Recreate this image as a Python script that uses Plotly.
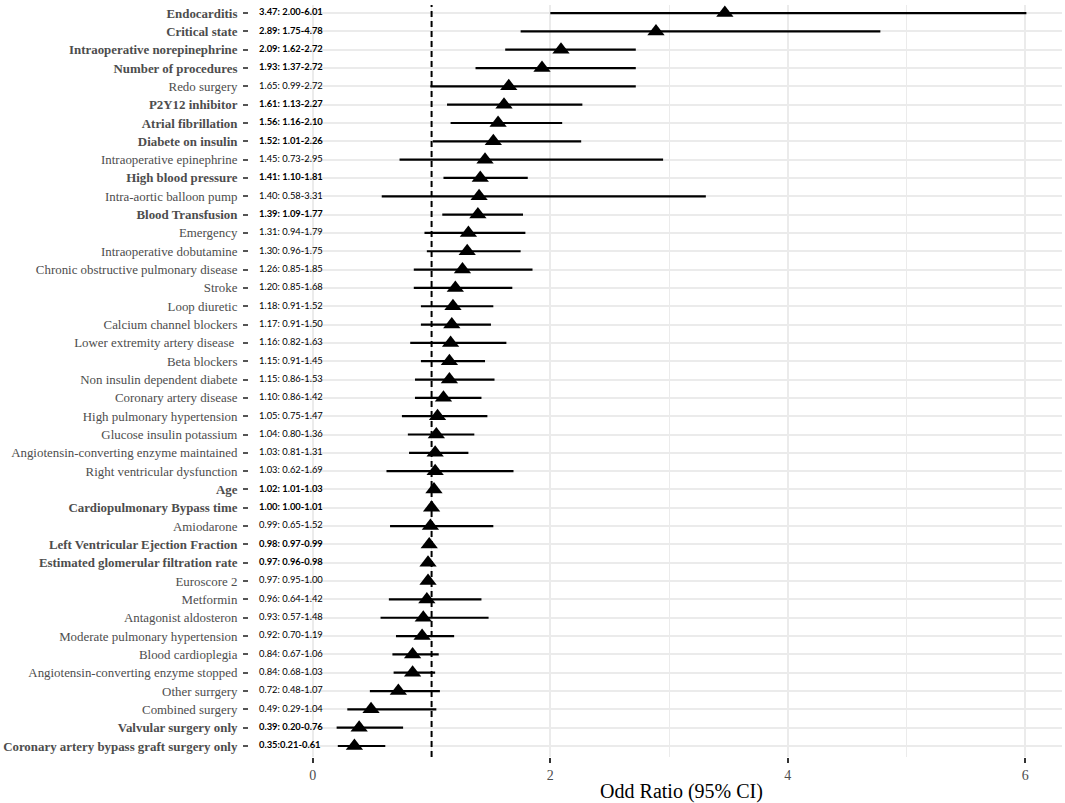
import plotly.graph_objects as go

# rows listed top to bottom, as in the figure
labels = [
    "Endocarditis", "Critical state", "Intraoperative norepinephrine",
    "Number of procedures", "Redo surgery", "P2Y12 inhibitor",
    "Atrial fibrillation", "Diabete on insulin", "Intraoperative epinephrine",
    "High blood pressure", "Intra-aortic balloon pump", "Blood Transfusion",
    "Emergency", "Intraoperative dobutamine",
    "Chronic obstructive pulmonary disease", "Stroke", "Loop diuretic",
    "Calcium channel blockers", "Lower extremity artery disease\u00a0",
    "Beta blockers", "Non insulin dependent diabete", "Coronary artery disease",
    "High pulmonary hypertension", "Glucose insulin potassium",
    "Angiotensin-converting enzyme maintained", "Right ventricular dysfunction",
    "Age", "Cardiopulmonary Bypass time", "Amiodarone",
    "Left Ventricular Ejection Fraction", "Estimated glomerular filtration rate",
    "Euroscore 2", "Metformin", "Antagonist aldosteron",
    "Moderate pulmonary hypertension", "Blood cardioplegia",
    "Angiotensin-converting enzyme stopped", "Other surrgery",
    "Combined surgery", "Valvular surgery only",
    "Coronary artery bypass graft surgery only",
]
odds = [3.47, 2.89, 2.09, 1.93, 1.65, 1.61, 1.56, 1.52, 1.45, 1.41, 1.40,
        1.39, 1.31, 1.30, 1.26, 1.20, 1.18, 1.17, 1.16, 1.15, 1.15, 1.10,
        1.05, 1.04, 1.03, 1.03, 1.02, 1.00, 0.99, 0.98, 0.97, 0.97, 0.96,
        0.93, 0.92, 0.84, 0.84, 0.72, 0.49, 0.39, 0.35]
ci_low = [2.00, 1.75, 1.62, 1.37, 0.99, 1.13, 1.16, 1.01, 0.73, 1.10, 0.58,
          1.09, 0.94, 0.96, 0.85, 0.85, 0.91, 0.91, 0.82, 0.91, 0.86, 0.86,
          0.75, 0.80, 0.81, 0.62, 1.01, 1.00, 0.65, 0.97, 0.96, 0.95, 0.64,
          0.57, 0.70, 0.67, 0.68, 0.48, 0.29, 0.20, 0.21]
ci_high = [6.01, 4.78, 2.72, 2.72, 2.72, 2.27, 2.10, 2.26, 2.95, 1.81, 3.31,
           1.77, 1.79, 1.75, 1.85, 1.68, 1.52, 1.50, 1.63, 1.45, 1.53, 1.42,
           1.47, 1.36, 1.31, 1.69, 1.03, 1.01, 1.52, 0.99, 0.98, 1.00, 1.42,
           1.48, 1.19, 1.06, 1.03, 1.07, 1.04, 0.76, 0.61]
significant = [1, 1, 1, 1, 0, 1, 1, 1, 0, 1, 0, 1, 0, 0, 0, 0, 0, 0, 0, 0, 0,
               0, 0, 0, 0, 0, 1, 1, 0, 1, 1, 0, 0, 0, 0, 0, 0, 0, 0, 1, 1]

n = len(labels)
ypos = [n - 1 - i for i in range(n)]

or_text = [f"{o:.2f}: {lo:.2f}-{hi:.2f}" for o, lo, hi in zip(odds, ci_low, ci_high)]
or_text[-1] = or_text[-1].replace(": ", ":")
or_text = [f"<b>{t}</b>" if s else t for t, s in zip(or_text, significant)]
tick_text = [f"<b>{t}</b>" if s else t for t, s in zip(labels, significant)]

PW = 1062.0  # paper width inside the margins
serif = "Liberation Serif, Times New Roman, serif"

fig = go.Figure()

fig.add_trace(go.Scatter(
    x=odds, y=ypos, mode="markers",
    marker=dict(symbol="triangle-up", size=15, color="black"),
    error_x=dict(type="data", symmetric=False,
                 array=[h - o for h, o in zip(ci_high, odds)],
                 arrayminus=[o - l for o, l in zip(odds, ci_low)],
                 width=0, thickness=2.2, color="black"),
    xaxis="x", yaxis="y", showlegend=False, hoverinfo="skip",
))

fig.add_trace(go.Scatter(
    x=[10] * n, y=ypos, mode="text", text=or_text,
    textposition="middle right",
    textfont=dict(family="Lato, sans-serif", size=9.4, color="black"),
    xaxis="x2", yaxis="y2", showlegend=False, cliponaxis=False,
    hoverinfo="skip",
))

fig.add_vline(x=1, line=dict(color="black", width=2, dash="6px,4px"))

fig.update_layout(
    template="none",
    width=1065, height=803,
    margin=dict(l=0, r=3, t=5, b=46),
    paper_bgcolor="white", plot_bgcolor="white",
    xaxis=dict(
        domain=[301 / PW, 1.0], range=[-0.1, 6.31],
        tickvals=[0, 2, 4, 6], ticks="outside", ticklen=5, tickwidth=2,
        tickcolor="#333333", showgrid=True, gridcolor="#EBEBEB", gridwidth=1.5,
        minor=dict(dtick=1, showgrid=True, gridcolor="#EBEBEB", gridwidth=1.2),
        zeroline=False, showline=False,
        tickfont=dict(family=serif, size=14, color="#4D4D4D"),
        title=dict(text="Odd Ratio (95% CI)", standoff=6,
                   font=dict(family=serif, size=20, color="black")),
        automargin=False,
    ),
    yaxis=dict(
        anchor="x", range=[-0.6, n - 1 + 0.44],
        tickvals=ypos, showticklabels=False, ticks="",
        showgrid=True, gridcolor="#EBEBEB", gridwidth=1.5,
        zeroline=False, showline=False, automargin=False,
    ),
    xaxis2=dict(
        domain=[249 / PW, 300 / PW], range=[0, 51],
        visible=False, showgrid=False, zeroline=False,
    ),
    yaxis2=dict(
        anchor="x2", matches="y", range=[-0.6, n - 1 + 0.44],
        tickvals=ypos, ticktext=tick_text,
        ticks="outside", ticklen=5, tickwidth=2, tickcolor="#555555",
        ticklabelstandoff=3, ticklabeloverflow="allow",
        showgrid=False, zeroline=False, showline=False,
        tickfont=dict(family=serif, size=12.9, color="#4D4D4D"),
        automargin=False,
    ),
)

# drop the page's default body margin so the figure fills the window
fig.write_html("out.html", config={"displayModeBar": False},
               post_script="document.body.style.margin='0px';")
